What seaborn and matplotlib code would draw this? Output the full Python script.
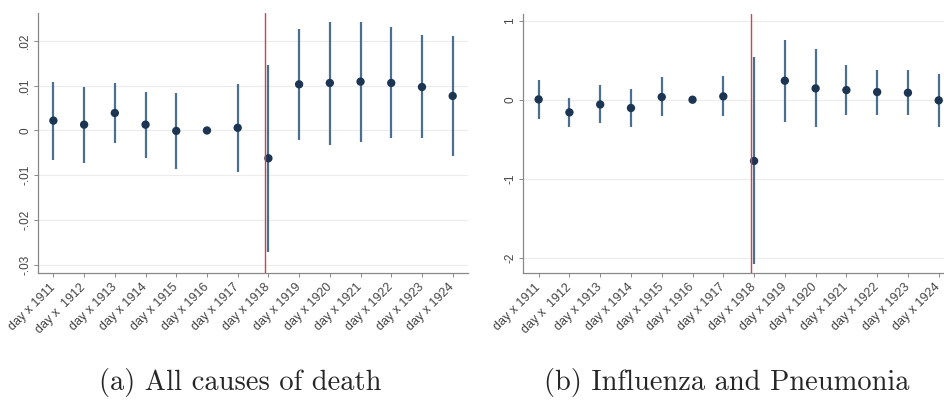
import numpy as np
import pandas as pd
import matplotlib
matplotlib.use('Agg')
import matplotlib.pyplot as plt
import seaborn as sns

years = ['day x 1911', 'day x  1912', 'day x 1913', 'day x 1914', 'day x 1915',
         'day x 1916', 'day x 1917', 'day x 1918', 'day x 1919', 'day x 1920',
         'day x 1921', 'day x 1922', 'day x 1923', 'day x 1924']

# (a) all causes of death
all_coef = [0.0022, 0.0013, 0.0039, 0.0013, -0.0001, 0.0, 0.0006,
            -0.0062, 0.0103, 0.0106, 0.0109, 0.0106, 0.0097, 0.0077]
all_lo = [-0.0065, -0.0073, -0.0028, -0.0062, -0.0087, np.nan, -0.0093,
          -0.0271, -0.0022, -0.0032, -0.0025, -0.0017, -0.0017, -0.0056]
all_hi = [0.0108, 0.0097, 0.0106, 0.0086, 0.0083, np.nan, 0.0104,
          0.0147, 0.0227, 0.0243, 0.0241, 0.0230, 0.0213, 0.0210]

# (b) influenza and pneumonia
flu_coef = [0.004, -0.16, -0.06, -0.105, 0.034, 0.0, 0.042,
            -0.774, 0.24, 0.143, 0.122, 0.097, 0.088, -0.008]
flu_lo = [-0.24, -0.345, -0.30, -0.35, -0.21, np.nan, -0.21,
          -2.08, -0.278, -0.35, -0.198, -0.19, -0.198, -0.34]
flu_hi = [0.25, 0.02, 0.19, 0.14, 0.29, np.nan, 0.30,
          0.534, 0.757, 0.64, 0.44, 0.38, 0.37, 0.33]

all_ticks = [0.02, 0.01, 0.0, -0.01, -0.02, -0.03]
all_ticklabels = ['.02', '.01', '0', '-.01', '-.02', '-.03']
flu_ticks = [1, 0, -1, -2]
flu_ticklabels = ['1', '0', '-1', '-2']

captions = ['(a) All causes of death', '(b) Influenza and Pneumonia']

sns.set_theme(style='white')
plt.rcParams['font.family'] = ['Liberation Sans', 'DejaVu Sans']

fig = plt.figure(figsize=(9.44, 4.03), dpi=100)
ax1 = fig.add_axes([0.0403, 0.3226, 0.4555, 0.645])
ax2 = fig.add_axes([0.5543, 0.3226, 0.4564, 0.643])

panels = [
    (ax1, all_coef, all_lo, all_hi, all_ticks, all_ticklabels, (-0.0318, 0.0262)),
    (ax2, flu_coef, flu_lo, flu_hi, flu_ticks, flu_ticklabels, (-2.19, 1.085)),
]

for ax, coef, lo, hi, ticks, ticklabels, ylim in panels:
    df = pd.DataFrame({'x': np.arange(len(years)), 'coef': coef, 'lo': lo, 'hi': hi})
    ax.vlines(df['x'], df['lo'], df['hi'], color='#4a6f90', lw=1.6, zorder=2)
    sns.scatterplot(data=df, x='x', y='coef', ax=ax, color='#1b3553', s=36,
                    edgecolor='none', zorder=3)
    ax.axvline(6.9, color='#cc4452', lw=1.0, zorder=4)

    ax.set_xlim(-0.5, 13.5)
    ax.set_ylim(*ylim)
    ax.set_xticks(df['x'])
    ax.set_xticklabels(years, rotation=45, ha='right', va='center',
                       rotation_mode='anchor', fontsize=9, color='#444444')
    ax.set_yticks(ticks)
    ax.set_yticklabels(ticklabels, rotation=90, va='center', fontsize=8.5,
                       color='#444444')
    ax.set_xlabel('')
    ax.set_ylabel('')
    ax.grid(axis='y', color='#ececec', lw=0.8)
    ax.set_axisbelow(True)
    ax.tick_params(axis='both', direction='out', length=3, width=0.7,
                   color='#888888', bottom=True, left=True, pad=2)
    ax.tick_params(axis='x', pad=6)
    for side in ['top', 'right']:
        ax.spines[side].set_visible(False)
    for side in ['left', 'bottom']:
        ax.spines[side].set_color('#888888')
        ax.spines[side].set_linewidth(0.9)

fig.text(0.254, 0.05, captions[0], ha='center', va='center', fontsize=20.5,
         family='cmr10')
fig.text(0.770, 0.05, captions[1], ha='center', va='center', fontsize=20.5,
         family='cmr10')

fig.savefig('out.png', dpi=100, facecolor='white')
